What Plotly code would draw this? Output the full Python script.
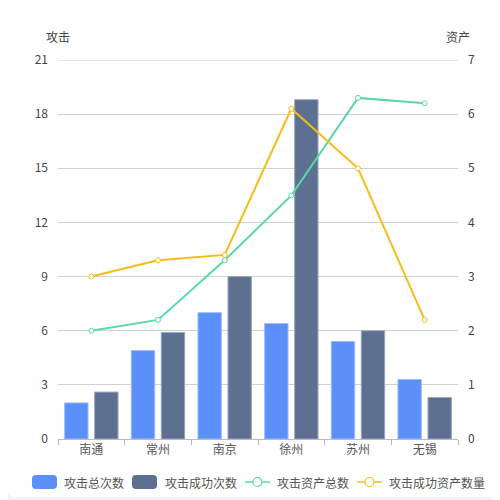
import plotly.graph_objects as go

cities = ["南通", "常州", "南京", "徐州", "苏州", "无锡"]
attack_total = [2.0, 4.9, 7.0, 6.4, 5.4, 3.3]
attack_success = [2.6, 5.9, 9.0, 18.8, 6.0, 2.3]
asset_total = [2.0, 2.2, 3.3, 4.5, 6.3, 6.2]
asset_success = [3.0, 3.3, 3.4, 6.1, 5.0, 2.2]
left_ticks = [0, 3, 6, 9, 12, 15, 18, 21]
right_ticks = [0, 1, 2, 3, 4, 5, 6, 7]

series_names = ["攻击总次数", "攻击成功次数", "攻击资产总数", "攻击成功资产数量"]
colors = ["#5B8FF9", "#5D7092", "#5AD8A6", "#F6BD16"]

# figure sits at page offset (8, 8)
W, H = 492, 492
L, R, T, B = 50, 42, 52, 61
pw, ph = W - L - R, H - T - B


def fx(p):  # page pixel x -> paper
    return (p - 8 - L) / pw


def fy(p):  # page pixel y -> paper
    return (H - B - (p - 8)) / ph


fig = go.Figure()
fig.add_trace(go.Bar(x=cities, y=attack_total, name=series_names[0],
                     marker=dict(color=colors[0], line=dict(color="#9dbcfb", width=1))))
fig.add_trace(go.Bar(x=cities, y=attack_success, name=series_names[1],
                     marker=dict(color=colors[1], line=dict(color="#9aa8c0", width=1))))
fig.add_trace(go.Scatter(x=cities, y=asset_total, name=series_names[2], yaxis="y2",
                         mode="lines+markers",
                         line=dict(color=colors[2], width=2),
                         marker=dict(symbol="circle", size=5, color="white",
                                     line=dict(color=colors[2], width=1))))
fig.add_trace(go.Scatter(x=cities, y=asset_success, name=series_names[3], yaxis="y2",
                         mode="lines+markers",
                         line=dict(color=colors[3], width=2),
                         marker=dict(symbol="circle", size=5, color="white",
                                     line=dict(color=colors[3], width=1))))


def rrect(xa, xb, ya, yb, r):
    # page pixel coords, rounded rect path in paper coords
    X = lambda v: fx(v)
    Y = lambda v: fy(v)
    return (f"M {X(xa+r)} {Y(ya)} L {X(xb-r)} {Y(ya)} Q {X(xb)} {Y(ya)} {X(xb)} {Y(ya+r)} "
            f"L {X(xb)} {Y(yb-r)} Q {X(xb)} {Y(yb)} {X(xb-r)} {Y(yb)} "
            f"L {X(xa+r)} {Y(yb)} Q {X(xa)} {Y(yb)} {X(xa)} {Y(yb-r)} "
            f"L {X(xa)} {Y(ya+r)} Q {X(xa)} {Y(ya)} {X(xa+r)} {Y(ya)} Z")


shapes = [
    dict(type="path", xref="paper", yref="paper", path=rrect(8, 520, -20, 497, 7),
         fillcolor="white", line=dict(width=0), layer="below"),
    dict(type="line", xref="paper", yref="y", x0=0, x1=1, y0=left_ticks[-1], y1=left_ticks[-1],
         line=dict(color="#D0D0D0", width=1), layer="below"),
]
annotations = [
    dict(text="攻击", xref="paper", yref="paper", x=fx(58), y=fy(37),
         xanchor="center", yanchor="middle",
         showarrow=False, font=dict(size=12, color="#444")),
    dict(text="资产", xref="paper", yref="paper", x=fx(458), y=fy(37),
         xanchor="center", yanchor="middle",
         showarrow=False, font=dict(size=12, color="#444")),
]

# custom legend
leg_y = 482
sym_x = [32, 132, 245, 357]
txt_x = [62, 163, 275, 387]
for i in range(4):
    if i < 2:
        shapes.append(dict(type="path", xref="paper", yref="paper",
                           path=rrect(sym_x[i], sym_x[i] + 25, leg_y - 7, leg_y + 7, 4),
                           fillcolor=colors[i], line=dict(width=0), layer="above"))
    else:
        shapes.append(dict(type="line", xref="paper", yref="paper",
                           x0=fx(sym_x[i]), x1=fx(sym_x[i] + 25), y0=fy(leg_y), y1=fy(leg_y),
                           line=dict(color=colors[i], width=1.5), layer="above"))
        cx = sym_x[i] + 12.5
        shapes.append(dict(type="circle", xref="paper", yref="paper",
                           x0=fx(cx - 4.5), x1=fx(cx + 4.5), y0=fy(leg_y + 4.5), y1=fy(leg_y - 4.5),
                           fillcolor="white", line=dict(color=colors[i], width=1.2), layer="above"))
    annotations.append(dict(text=series_names[i], xref="paper", yref="paper",
                            x=fx(txt_x[i]), y=fy(leg_y), xanchor="left", yanchor="middle",
                            showarrow=False, font=dict(size=12, color="#555")))

fig.update_layout(
    width=W, height=H,
    margin=dict(l=L, r=R, t=T, b=B, autoexpand=False),
    paper_bgcolor="#F2F3F8",
    plot_bgcolor="white",
    font=dict(family="Noto Sans CJK SC, Noto Sans, sans-serif", size=12, color="#555"),
    barmode="group", bargap=0.1, bargroupgap=0.22,
    showlegend=False,
    shapes=shapes,
    annotations=annotations,
    xaxis=dict(showgrid=False, showline=True, linecolor="#BBBBBB",
               ticks="outside", tickson="boundaries", ticklen=5, tickcolor="#BBBBBB",
               tickfont=dict(size=12, color="#555")),
    yaxis=dict(range=[0, 21], tickvals=left_ticks, gridcolor="#D0D0D0",
               zeroline=False, showline=False, ticks="", ticklabelstandoff=9,
               tickfont=dict(size=12, color="#444")),
    yaxis2=dict(range=[0, 7], tickvals=right_ticks, overlaying="y", side="right",
                showgrid=False, zeroline=False, showline=False, ticklabelstandoff=9,
                tickfont=dict(size=12, color="#444")),
)

fig.write_html("out.html")
